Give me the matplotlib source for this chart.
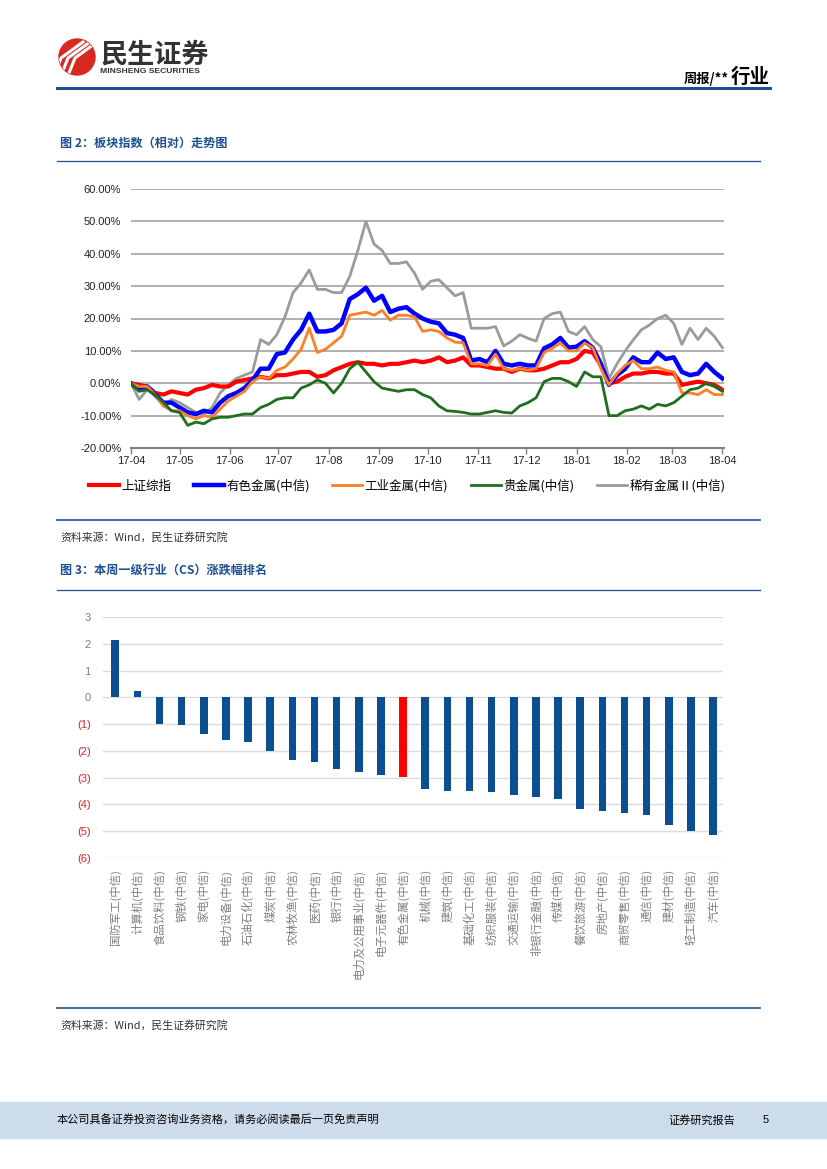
import numpy as np
import pandas as pd
import matplotlib
matplotlib.use('Agg')
import matplotlib.pyplot as plt
import matplotlib.dates as mdates
from matplotlib.patches import Circle, Rectangle

plt.rcParams['font.family'] = ['Noto Sans CJK SC', 'DejaVu Sans']

W, H = 827, 1169

dates = pd.date_range('2017-04-01', periods=74, freq='5D')
sh_index = [0, -0.5, -1, -3, -3.5, -2.5, -3, -3.5, -2, -1.5,
            -0.5, -1, -1, 0.5, 1, 1.5, 2, 1.5, 2.5, 2.5,
            3, 3.5, 3.5, 2, 2.5, 4, 5, 6, 6.5, 6,
            6, 5.5, 6, 6, 6.5, 7, 6.5, 7, 8, 6.5,
            7, 8, 5.5, 5.5, 5, 4.5, 4.5, 3.5, 4.5, 4,
            4, 4.5, 5.5, 6.5, 6.5, 7.5, 10, 9.5, 5.5, 0,
            0.5, 2, 3, 3, 3.5, 3.5, 3, 3, -0.5, 0,
            0.5, 0, -0.5, -2]
nonferrous = [0, -2, -1, -3.5, -6, -6, -7.5, -9, -9.5, -8.5,
              -9, -6, -4, -3, -1.5, 1, 4.5, 4.5, 9, 9.5,
              13.5, 16.5, 21.5, 16, 16, 16.5, 18.5, 26, 27.5, 29.5,
              25.5, 27, 22, 23, 23.5, 21.5, 20, 19, 18.5, 15.5,
              15, 14, 7, 7.5, 6.5, 10, 6, 5.5, 6, 5.5,
              5.5, 10.8, 12, 14, 11, 11.3, 13, 11, 6, -0.5,
              2.5, 4.5, 8, 6.5, 6.5, 9.5, 7.5, 8, 3.5, 2.5,
              3, 6, 3.5, 1.5]
industrial = [0, -1, -1, -3.5, -7, -8.5, -8.5, -10, -11, -10,
              -10.5, -8, -5.5, -4, -2.5, 0.5, 2, 1.5, 4, 5,
              7.5, 10.5, 17, 9.5, 10.5, 12.5, 14.5, 21, 21.5, 22,
              21, 22.5, 19.5, 21, 21, 20.5, 16, 16.5, 16, 14,
              12.7, 12.5, 6, 6, 5.5, 9, 4.5, 4, 4.5, 4,
              4.5, 9.5, 10.8, 12.5, 10, 10, 12.4, 11, 4.5, -0.5,
              3, 5.5, 7, 4.5, 4.5, 5, 4, 3.5, -3, -3,
              -3.5, -2, -3.5, -3.5]
precious = [0, -2.5, -2, -3.5, -6, -8.5, -9, -13, -12, -12.5,
            -11, -10.5, -10.5, -10, -9.5, -9.5, -7.5, -6.5, -5, -4.5,
            -4.5, -1.5, -0.5, 1, 0, -3, 0, 4.5, 6.5, 3.5,
            0.5, -1.5, -2, -2.5, -2, -2, -3.5, -4.5, -7, -8.5,
            -8.7, -9, -9.5, -9.5, -9, -8.5, -9, -9.2, -7, -6,
            -4.5, 0.5, 1.5, 1.5, 0.5, -1, 3.5, 2, 2, -10,
            -10, -8.5, -8, -7, -8, -6.5, -7, -6, -4, -2,
            -1.5, 0, -1, -2.5]
rare = [0, -5, -2, -4, -7, -5, -6, -7.5, -9, -9.5,
        -7.5, -3, -0.5, 1.5, 2.5, 3.5, 13.5, 12, 15, 20.5,
        28, 31, 35, 29, 29, 28, 28, 33, 41, 50,
        43, 41, 37, 37, 37.5, 34, 29, 31.5, 32, 29.5,
        27, 28, 17, 17, 17, 17.5, 11.5, 13, 15, 13.9,
        13, 20, 21.5, 22, 16, 15, 17.5, 13.5, 11.3, 1.5,
        6, 10, 13.4, 16.5, 18, 20, 21, 18.5, 12, 17,
        13.5, 17, 14.5, 11]
line_names = ['上证综指', '有色金属(中信)', '工业金属(中信)', '贵金属(中信)', '稀有金属Ⅱ(中信)']

# ---- figure 3: weekly change by CS industry (%) ----
industries = ['国防军工(中信)', '计算机(中信)', '食品饮料(中信)', '钢铁(中信)', '家电(中信)',
              '电力设备(中信)', '石油石化(中信)', '煤炭(中信)', '农林牧渔(中信)', '医药(中信)',
              '银行(中信)', '电力及公用事业(中信)', '电子元器件(中信)', '有色金属(中信)', '机械(中信)',
              '建筑(中信)', '基础化工(中信)', '纺织服装(中信)', '交通运输(中信)', '非银行金融(中信)',
              '传媒(中信)', '餐饮旅游(中信)', '房地产(中信)', '商贸零售(中信)', '通信(中信)',
              '建材(中信)', '轻工制造(中信)', '汽车(中信)']
changes = [2.14, 0.22, -1.0, -1.03, -1.37, -1.6, -1.68, -2.0, -2.35, -2.42,
           -2.66, -2.8, -2.91, -2.99, -3.44, -3.48, -3.5, -3.52, -3.66, -3.74,
           -3.8, -4.16, -4.24, -4.32, -4.39, -4.77, -4.98, -5.13]

fig = plt.figure(figsize=(W / 100, H / 100), dpi=100)

# page layer in pixel coords
bg = fig.add_axes([0, 0, 1, 1])
bg.set_xlim(0, W)
bg.set_ylim(H, 0)
bg.axis('off')

# logo
logo = Circle((77, 57), 18, color='#d8281f')
bg.add_patch(logo)
for off in [-9, -2, 5]:
    ln, = bg.plot([62 + off, 70 + off, 92 + off], [78, 58, 42], color='white', lw=2.2)
    ln.set_clip_path(logo)
bg.text(100, 55, '民生证券', fontsize=19.5, fontweight='bold', color='#333333', va='center')
bg.text(100, 71.5, 'MINSHENG SECURITIES', fontsize=6.1, fontweight='bold', color='#333333',
        va='center', family='Liberation Sans')
bg.text(770, 83, '行业', fontsize=14, fontweight='bold', ha='right', va='baseline')
bg.text(729, 83, '周报/**', fontsize=9.5, fontweight='bold', ha='right', va='baseline')
bg.plot([57, 770], [88, 88], color='#1d4f8e', lw=2.2)

# section titles / rules
blue_t = '#1b4f94'
bg.text(60, 143, '图 2：板块指数（相对）走势图', fontsize=8.7, fontweight='bold', color=blue_t, va='center')
bg.plot([57, 760], [161, 161], color='#1f4e8c', lw=0.9)
bg.plot([57, 760], [520, 520], color='#1f4e8c', lw=1.2)
bg.text(60, 537, '资料来源：Wind，民生证券研究院', fontsize=7.85, color='#333333', va='center')
bg.text(60, 571, '图 3：本周一级行业（CS）涨跌幅排名', fontsize=8.7, fontweight='bold', color=blue_t, va='center')
bg.plot([57, 760], [590, 590], color='#1f4e8c', lw=0.9)
bg.plot([57, 760], [1008, 1008], color='#1f4e8c', lw=1.2)
bg.text(60, 1025, '资料来源：Wind，民生证券研究院', fontsize=7.85, color='#333333', va='center')

# footer
bg.add_patch(Rectangle((0, 1102), W, 36, color='#cddcea'))
bg.text(57, 1120, '本公司具备证券投资咨询业务资格，请务必阅读最后一页免责声明', fontsize=8, va='center')
bg.text(668, 1120, '证券研究报告', fontsize=8, va='center')
bg.text(763, 1120, '5', fontsize=8, va='center', family='Liberation Sans')

# ---- chart 1 ----
ax1 = fig.add_axes([131 / W, 1 - 448 / H, (724 - 131) / W, (448 - 189) / H])
h_rare, = ax1.plot(dates, rare, color='#9b9b9b', lw=2.0)
h_sh, = ax1.plot(dates, sh_index, color='#ff0000', lw=3.0)
h_nf, = ax1.plot(dates, nonferrous, color='#0000ff', lw=3.2)
h_ind, = ax1.plot(dates, industrial, color='#ff7f27', lw=2.0)
h_pre, = ax1.plot(dates, precious, color='#1e6e1e', lw=2.0)
ax1.set_xlim(pd.Timestamp('2017-04-01'), pd.Timestamp('2018-04-02'))
ax1.set_ylim(-20, 60)
ax1.set_yticks(np.arange(-20, 61, 10))
ax1.set_yticklabels(['%.2f%%' % v for v in np.arange(-20, 61, 10)])
ax1.xaxis.set_major_locator(mdates.MonthLocator())
ax1.xaxis.set_major_formatter(mdates.DateFormatter('%y-%m'))
ax1.yaxis.grid(True, color='#b0b0b0', lw=1.4)
ax1.set_axisbelow(True)
for s in ['left', 'right', 'top']:
    ax1.spines[s].set_visible(False)
ax1.spines['bottom'].set_color('#808080')
ax1.spines['bottom'].set_linewidth(1.5)
ax1.tick_params(axis='y', length=0, pad=7, labelsize=8, labelcolor='#222222')
ax1.tick_params(axis='x', length=4, width=1, color='#808080', pad=2, labelsize=8, labelcolor='#222222')
for t in ax1.get_xticklabels() + ax1.get_yticklabels():
    t.set_family('Liberation Sans')

fig.legend([h_sh, h_nf, h_ind, h_pre, h_rare], line_names, loc='center',
           bbox_to_anchor=(407 / W, 1 - 486 / H), ncol=5, frameon=False, fontsize=9,
           handlelength=2.4, handletextpad=0.2, columnspacing=1.8)

# ---- chart 2 ----
ax2 = fig.add_axes([103 / W, 1 - 858 / H, (723 - 103) / W, (858 - 617) / H])
x = np.arange(len(industries))
bar_colors = ['#ff0000' if n == '有色金属(中信)' else '#0b4e92' for n in industries]
ax2.bar(x, changes, width=0.34, color=bar_colors)
ax2.set_xlim(-0.55, len(industries) - 0.55)
ax2.set_ylim(-6, 3)
yt = np.arange(-6, 4)
ax2.set_yticks(yt)
ax2.set_yticklabels([('(%d)' % -v) if v < 0 else str(v) for v in yt])
for t, v in zip(ax2.get_yticklabels(), yt):
    t.set_color('#e0202a' if v < 0 else '#7f7f7f')
    t.set_family('Liberation Sans')
ax2.set_xticks(x)
ax2.set_xticklabels(industries, rotation=90, fontsize=8.2, color='#7f7f7f')
ax2.yaxis.grid(True, color='#dcdcdc', lw=1)
ax2.set_axisbelow(True)
for s in ax2.spines.values():
    s.set_visible(False)
ax2.tick_params(length=0, labelsize=8)
ax2.tick_params(axis='x', labelsize=8.2)
ax2.tick_params(axis='y', pad=9)
ax2.tick_params(axis='x', pad=8)

fig.savefig('out.png', dpi=100)
